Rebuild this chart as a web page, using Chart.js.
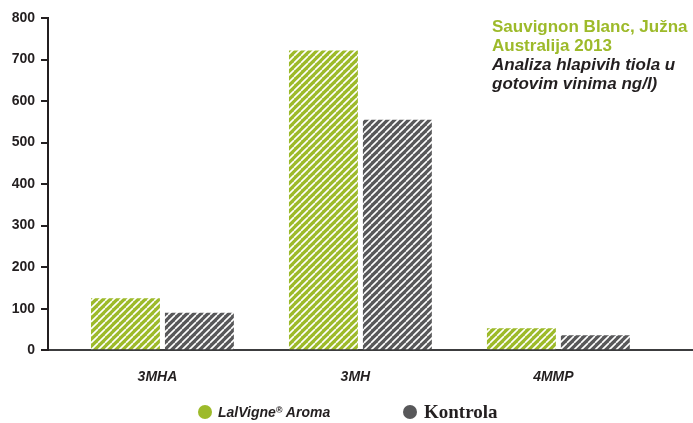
<!DOCTYPE html>
<html lang="hr">
<head>
  <meta charset="UTF-8" />
  <title>Sauvignon Blanc - hlapivi tioli</title>
  <script src="https://cdn.jsdelivr.net/npm/chart.js"></script>
  <style>
    body {
      margin: 0;
      padding: 0;
      background: #ffffff;
      font-family: 'Liberation Sans', Arial, sans-serif;
    }
    .wrap {
      position: relative;
      width: 693px;
      height: 423px;
    }
    .note {
      position: absolute;
      left: 492px;
      top: 17px;
      font-size: 17px;
      line-height: 19px;
      font-weight: bold;
    }
    .note .green { color: #9dba2a; }
    .note .sub { color: #231f20; font-style: italic; }
    .legend {
      position: absolute;
      top: 401px;
      left: 0;
      width: 693px;
      height: 22px;
    }
    .legend span {
      position: absolute;
      top: 0;
      line-height: 22px;
      color: #231f20;
      font-weight: bold;
    }
    .legend sup { font-size: 9px; line-height: 0; vertical-align: 4px; }
    .legend i {
      position: absolute;
      top: 4px;
      width: 14px;
      height: 14px;
      border-radius: 50%;
    }
  </style>
</head>
<body>
  <div class="wrap">
    <canvas id="tiolChart" width="693" height="423"></canvas>
    <div class="note">
      <div class="green">Sauvignon Blanc, Južna</div>
      <div class="green">Australija 2013</div>
      <div class="sub">Analiza hlapivih tiola u</div>
      <div class="sub">gotovim vinima ng/l)</div>
    </div>
    <div class="legend" id="legend"></div>
  </div>

  <script>
    const categories = ['3MHA', '3MH', '4MMP'];
    const lalvigne = [125, 722, 53];
    const kontrola = [90, 555, 36];
    const yTicks = [0, 100, 200, 300, 400, 500, 600, 700, 800];
    const seriesNames = ['LalVigne® Aroma', 'Kontrola'];

    const green = '#9dba2a';
    const grey = '#58585a';
    const ink = '#231f20';

    // diagonal white hatching like in the original print
    function hatch(color) {
      const c = document.createElement('canvas');
      c.width = 7;
      c.height = 7;
      const g = c.getContext('2d');
      g.fillStyle = color;
      g.fillRect(0, 0, 7, 7);
      g.strokeStyle = '#ffffff';
      g.lineWidth = 1.6;
      g.beginPath();
      for (let k = -1; k <= 1; k++) {
        g.moveTo(k * 7, 7);
        g.lineTo(k * 7 + 7, 0);
      }
      g.stroke();
      return g.createPattern(c, 'repeat');
    }

    const toPoints = arr => arr.map((v, i) => ({ x: i, y: v }));

    const ctx = document.getElementById('tiolChart').getContext('2d');
    new Chart(ctx, {
      type: 'bar',
      data: {
        datasets: [
          {
            label: seriesNames[0],
            data: toPoints(lalvigne),
            backgroundColor: hatch(green),
            categoryPercentage: 0.747,
            barPercentage: 0.932
          },
          {
            label: seriesNames[1],
            data: toPoints(kontrola),
            backgroundColor: hatch(grey),
            categoryPercentage: 0.747,
            barPercentage: 0.932
          }
        ]
      },
      options: {
        responsive: false,
        animation: false,
        layout: { padding: { top: 18, right: 0, bottom: 26, left: 0 } },
        plugins: {
          legend: { display: false },
          tooltip: { enabled: false }
        },
        scales: {
          x: {
            type: 'linear',
            offset: false,
            min: -0.578,
            max: 2.68,
            afterBuildTicks: s => { s.ticks = categories.map((c, i) => ({ value: i })); },
            grid: { display: false },
            border: { color: '#3c3c3e', width: 2 },
            ticks: {
              callback: v => categories[v],
              color: ink,
              padding: 11,
              labelOffset: -5,
              font: { family: "'Liberation Sans', Arial, sans-serif", size: 14, weight: 'bold', style: 'italic' }
            }
          },
          y: {
            min: 0,
            max: 800,
            afterBuildTicks: s => { s.ticks = yTicks.map(v => ({ value: v })); },
            afterFit: s => { s.width = 48; },
            grid: { drawOnChartArea: false, tickLength: 7, color: ink, lineWidth: 2 },
            border: { color: ink, width: 2 },
            ticks: {
              color: ink,
              padding: 6,
              font: { family: "'Liberation Sans', Arial, sans-serif", size: 14, weight: 'bold' }
            }
          }
        }
      }
    });

    // legend with two different type faces, as in the reference
    const legend = document.getElementById('legend');
    legend.innerHTML =
      '<i style="left:198px;background:' + green + '"></i>' +
      '<span style="left:218px;font-size:14px;font-style:italic;">LalVigne<sup>®</sup> Aroma</span>' +
      '<i style="left:403px;background:' + grey + '"></i>' +
      '<span style="left:424px;font-size:19px;font-family:\'Liberation Serif\',serif;">' + seriesNames[1] + '</span>';
  </script>
</body>
</html>
